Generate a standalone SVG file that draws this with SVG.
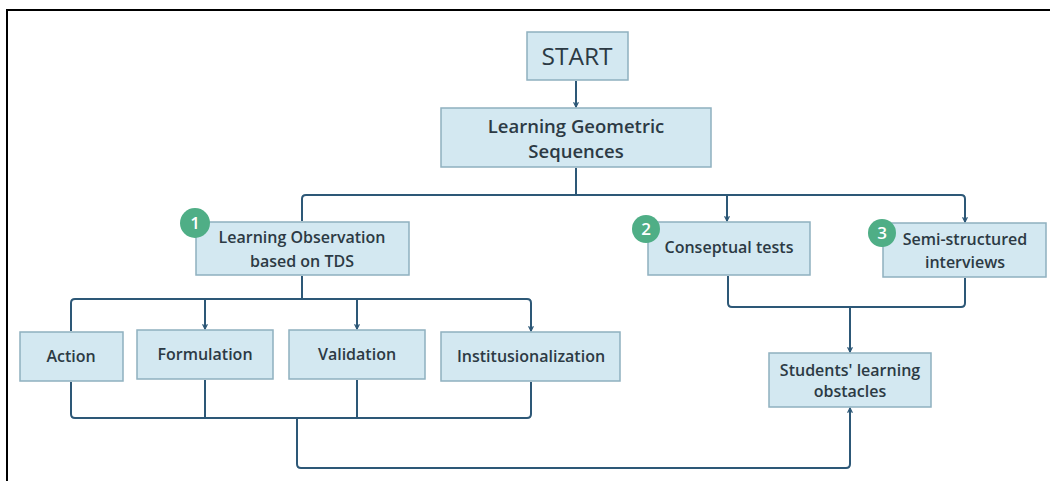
<svg xmlns="http://www.w3.org/2000/svg" width="1050" height="481" viewBox="0 0 1050 481">
  <style>
    .box { fill: #d3e8f1; stroke: #8eb0bf; stroke-width: 1.5; }
    .lbl { font-family: "Open Sans", "Noto Sans", sans-serif; fill: #2c3a44; text-anchor: middle; font-size: 16px; font-weight: 600; }
    .big { font-size: 18.5px; }
    .start { font-size: 24.5px; font-weight: 500; }
    .wire { fill: none; stroke: #2d5877; stroke-width: 2; stroke-linejoin: round; }
    .badge { fill: #4fae86; }
    .num { font-family: "Open Sans", "Noto Sans", sans-serif; fill: #ffffff; font-size: 17px; font-weight: 600; text-anchor: middle; }
  </style>
  <defs>
    <marker id="arrow" viewBox="0 0 10 10" refX="9" refY="5" markerWidth="6" markerHeight="6" orient="auto" markerUnits="userSpaceOnUse">
      <path d="M1,1 L9,5 L1,9" fill="none" stroke="#2d5877" stroke-width="2"/>
    </marker>
  </defs>

  <rect width="1050" height="481" fill="#ffffff"/>
  <!-- page frame -->
  <path d="M7,481 V10 H1050" fill="none" stroke="#000000" stroke-width="2"/>

  <g id="connectors">
    <path class="wire" d="M576,81 V107" marker-end="url(#arrow)"/>
    <path class="wire" d="M576,168 V195"/>
    <path class="wire" d="M302,221 V199 Q302,195 306,195 H961 Q965,195 965,199 V222" marker-end="url(#arrow)"/>
    <path class="wire" d="M727,195 V221" marker-end="url(#arrow)"/>
    <path class="wire" d="M302,276 V299"/>
    <path class="wire" d="M71,331 V303 Q71,299 75,299 H527 Q531,299 531,303 V331" marker-end="url(#arrow)"/>
    <path class="wire" d="M205,299 V329" marker-end="url(#arrow)"/>
    <path class="wire" d="M357,299 V329" marker-end="url(#arrow)"/>
    <path class="wire" d="M71,382 V414 Q71,418 75,418 H527 Q531,418 531,414 V382"/>
    <path class="wire" d="M205,380 V418"/>
    <path class="wire" d="M357,380 V418"/>
    <path class="wire" d="M297,418 V464 Q297,468 301,468 H846 Q850,468 850,464 V408" marker-end="url(#arrow)"/>
    <path class="wire" d="M728,276 V303 Q728,307 732,307 H961 Q965,307 965,303 V278"/>
    <path class="wire" d="M850,307 V352" marker-end="url(#arrow)"/>
  </g>

  <g id="start">
    <rect class="box" x="527" y="32" width="101" height="48"/>
    <text class="lbl start" x="577" y="65">START</text>
  </g>

  <g id="learning-geometric-sequences">
    <rect class="box" x="441" y="108" width="270" height="59"/>
    <text class="lbl big" x="576" y="133">Learning Geometric</text>
    <text class="lbl big" x="576" y="158">Sequences</text>
  </g>

  <g id="learning-observation">
    <rect class="box" x="196" y="222" width="213" height="53"/>
    <text class="lbl" x="302" y="243">Learning Observation</text>
    <text class="lbl" x="302" y="267">based on TDS</text>
    <circle class="badge" cx="195" cy="223" r="15"/>
    <text class="num" x="195" y="229">1</text>
  </g>

  <g id="conseptual-tests">
    <rect class="box" x="648" y="222" width="162" height="53"/>
    <text class="lbl" x="729" y="253">Conseptual tests</text>
    <circle class="badge" cx="646" cy="229" r="14"/>
    <text class="num" x="646" y="235">2</text>
  </g>

  <g id="semi-structured-interviews">
    <rect class="box" x="883" y="223" width="163" height="54"/>
    <text class="lbl" x="965" y="245">Semi-structured</text>
    <text class="lbl" x="965" y="268">interviews</text>
    <circle class="badge" cx="882" cy="233" r="14"/>
    <text class="num" x="882" y="239">3</text>
  </g>

  <g id="action">
    <rect class="box" x="20" y="332" width="103" height="49"/>
    <text class="lbl" x="71" y="362">Action</text>
  </g>

  <g id="formulation">
    <rect class="box" x="137" y="330" width="136" height="49"/>
    <text class="lbl" x="205" y="360">Formulation</text>
  </g>

  <g id="validation">
    <rect class="box" x="289" y="330" width="136" height="49"/>
    <text class="lbl" x="357" y="360">Validation</text>
  </g>

  <g id="institusionalization">
    <rect class="box" x="441" y="332" width="179" height="49"/>
    <text class="lbl" x="531" y="362">Institusionalization</text>
  </g>

  <g id="students-learning-obstacles">
    <rect class="box" x="769" y="353" width="162" height="54"/>
    <text class="lbl" x="850" y="376">Students' learning</text>
    <text class="lbl" x="850" y="397">obstacles</text>
  </g>
</svg>
